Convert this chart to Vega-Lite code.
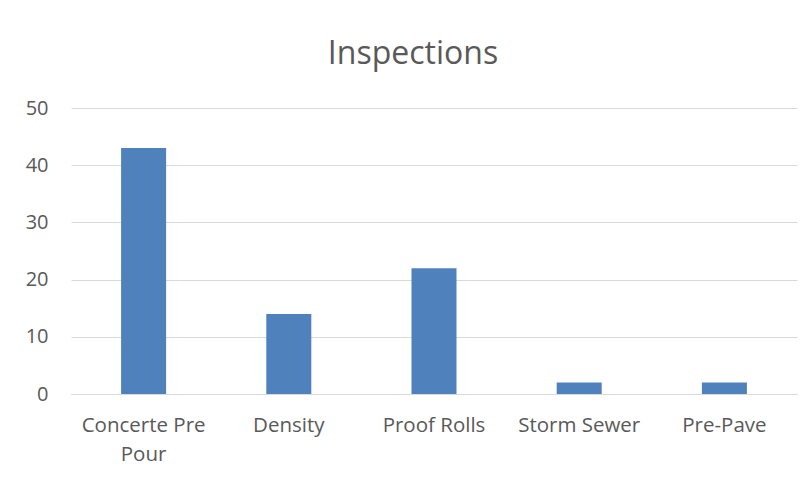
{
  "$schema": "https://vega.github.io/schema/vega-lite/v6.json",
  "autosize": {"type": "none"},
  "padding": {"left": 71, "top": 108, "right": 13, "bottom": 87},
  "width": 726,
  "height": 286,
  "background": "white",
  "config": {"view": {"stroke": null}},
  "title": {
    "text": "Inspections",
    "font": "Open Sans",
    "fontSize": 32,
    "fontWeight": "normal",
    "color": "#595959",
    "anchor": "middle",
    "dx": -21,
    "offset": 27
  },
  "data": {
    "values": [
      {"type": "Concerte Pre Pour", "count": 43},
      {"type": "Density", "count": 14},
      {"type": "Proof Rolls", "count": 22},
      {"type": "Storm Sewer", "count": 2},
      {"type": "Pre-Pave", "count": 2}
    ]
  },
  "mark": {"type": "bar", "color": "#4F81BD"},
  "encoding": {
    "x": {
      "field": "type",
      "type": "nominal",
      "sort": null,
      "scale": {"paddingInner": 0.69, "paddingOuter": 0.345},
      "axis": {
        "title": null,
        "labelAngle": 0,
        "labelFont": "Open Sans",
        "labelFontSize": 20.5,
        "labelColor": "#595959",
        "labelPadding": 21,
        "labelLineHeight": 29,
        "labelBaseline": "top",
        "ticks": false,
        "domainColor": "#D9D9D9",
        "domainWidth": 1,
        "labelExpr": "datum.label == 'Concerte Pre Pour' ? ['Concerte Pre', 'Pour'] : datum.label"
      }
    },
    "y": {
      "field": "count",
      "type": "quantitative",
      "scale": {"domain": [0, 50]},
      "axis": {
        "title": null,
        "values": [0, 10, 20, 30, 40, 50],
        "labelFont": "Open Sans",
        "labelFontSize": 20,
        "labelColor": "#595959",
        "labelPadding": 23,
        "ticks": false,
        "domain": false,
        "gridColor": "#D9D9D9",
        "gridWidth": 1
      }
    }
  }
}
